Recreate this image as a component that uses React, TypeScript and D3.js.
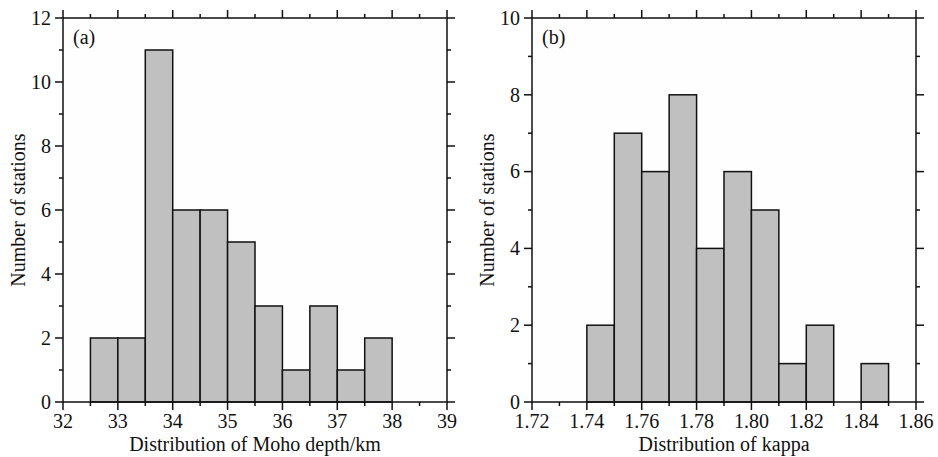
import React from "react";
import * as d3 from "d3";

// Moho depth histogram (bin width 0.5 km)
const mohoBinStarts = [32.5, 33, 33.5, 34, 34.5, 35, 35.5, 36, 36.5, 37, 37.5];
const mohoCounts = [2, 2, 11, 6, 6, 5, 3, 1, 3, 1, 2];
const mohoBinWidth = 0.5;
const mohoXTicks = [32, 33, 34, 35, 36, 37, 38, 39];

// kappa histogram (bin width 0.01)
const kappaBinStarts = [1.74, 1.75, 1.76, 1.77, 1.78, 1.79, 1.8, 1.81, 1.82, 1.83, 1.84];
const kappaCounts = [2, 7, 6, 8, 4, 6, 5, 1, 2, 0, 1];
const kappaBinWidth = 0.01;
const kappaXTicks = [1.72, 1.74, 1.76, 1.78, 1.8, 1.82, 1.84, 1.86];

const FONT = "'Liberation Serif', 'DejaVu Serif', serif";
const TOP = 18;
const BOTTOM = 402;
const MAJOR = 8;
const MINOR = 4;

type PanelProps = {
  left: number;
  right: number;
  xDomain: [number, number];
  xTicks: number[];
  xMinorStep: number;
  xFormat: (v: number) => string;
  yMax: number;
  binStarts: number[];
  counts: number[];
  binWidth: number;
  label: string;
  xTitle: string;
};

function Panel(p: PanelProps) {
  const x = d3.scaleLinear().domain(p.xDomain).range([p.left, p.right]);
  const y = d3.scaleLinear().domain([0, p.yMax]).range([BOTTOM, TOP]);

  const nMinor = Math.round((p.xDomain[1] - p.xDomain[0]) / p.xMinorStep);
  const xMinor = d3.range(nMinor + 1).map((i) => p.xDomain[0] + i * p.xMinorStep);
  const isMajorX = (v: number) => p.xTicks.some((t) => Math.abs(t - v) < p.xMinorStep / 10);
  const yAll = d3.range(p.yMax + 1);
  const yMajor = yAll.filter((v) => v % 2 === 0);

  const stroke = "#111";
  return (
    <g>
      <rect x={p.left} y={TOP} width={p.right - p.left} height={BOTTOM - TOP} fill="#fefefe" />
      {p.binStarts.map((b, i) =>
        p.counts[i] > 0 ? (
          <rect
            key={i}
            x={x(b)}
            y={y(p.counts[i])}
            width={x(b + p.binWidth) - x(b)}
            height={y(0) - y(p.counts[i])}
            fill="#c0c0c0"
            stroke={stroke}
            strokeWidth={1.5}
          />
        ) : null
      )}
      <rect
        x={p.left}
        y={TOP}
        width={p.right - p.left}
        height={BOTTOM - TOP}
        fill="none"
        stroke={stroke}
        strokeWidth={1.5}
      />
      {/* x ticks on top and bottom, pointing outward */}
      {xMinor.map((v, i) => {
        const len = isMajorX(v) ? MAJOR : MINOR;
        const xx = x(v);
        return (
          <g key={"xt" + i} stroke={stroke} strokeWidth={1.5}>
            <line x1={xx} x2={xx} y1={BOTTOM} y2={BOTTOM + len} />
            <line x1={xx} x2={xx} y1={TOP} y2={TOP - len} />
          </g>
        );
      })}
      {/* y ticks on left and right, pointing outward */}
      {yAll.map((v) => {
        const len = v % 2 === 0 ? MAJOR : MINOR;
        const yy = y(v);
        return (
          <g key={"yt" + v} stroke={stroke} strokeWidth={1.5}>
            <line x1={p.left} x2={p.left - len} y1={yy} y2={yy} />
            <line x1={p.right} x2={p.right + len} y1={yy} y2={yy} />
          </g>
        );
      })}
      {p.xTicks.map((v) => (
        <text
          key={"xl" + v}
          x={x(v)}
          y={428}
          textAnchor="middle"
          fontFamily={FONT}
          fontSize={20}
          fill="#111"
        >
          {p.xFormat(v)}
        </text>
      ))}
      {yMajor.map((v) => (
        <text
          key={"yl" + v}
          x={p.left - 12}
          y={y(v)}
          dy="0.34em"
          textAnchor="end"
          fontFamily={FONT}
          fontSize={20}
          fill="#111"
        >
          {v}
        </text>
      ))}
      <text
        x={(p.left + p.right) / 2}
        y={451}
        textAnchor="middle"
        fontFamily={FONT}
        fontSize={20}
        fill="#111"
      >
        {p.xTitle}
      </text>
      <text
        transform={`translate(${p.left - 38},${(TOP + BOTTOM) / 2}) rotate(-90)`}
        textAnchor="middle"
        fontFamily={FONT}
        fontSize={20}
        fill="#111"
      >
        Number of stations
      </text>
      <text x={p.left + 10} y={44} fontFamily={FONT} fontSize={20} fill="#111">
        {p.label}
      </text>
    </g>
  );
}

export default function App() {
  return (
    <svg
      width={938}
      height={457}
      style={{ position: "absolute", left: 0, top: 0, display: "block", background: "#fff" }}
    >
      <Panel
        left={63}
        right={447}
        xDomain={[32, 39]}
        xTicks={mohoXTicks}
        xMinorStep={0.5}
        xFormat={(v) => d3.format("d")(v)}
        yMax={12}
        binStarts={mohoBinStarts}
        counts={mohoCounts}
        binWidth={mohoBinWidth}
        label="(a)"
        xTitle="Distribution of Moho depth/km"
      />
      <Panel
        left={532}
        right={916}
        xDomain={[1.72, 1.86]}
        xTicks={kappaXTicks}
        xMinorStep={0.01}
        xFormat={(v) => d3.format(".2f")(v)}
        yMax={10}
        binStarts={kappaBinStarts}
        counts={kappaCounts}
        binWidth={kappaBinWidth}
        label="(b)"
        xTitle="Distribution of kappa"
      />
    </svg>
  );
}
